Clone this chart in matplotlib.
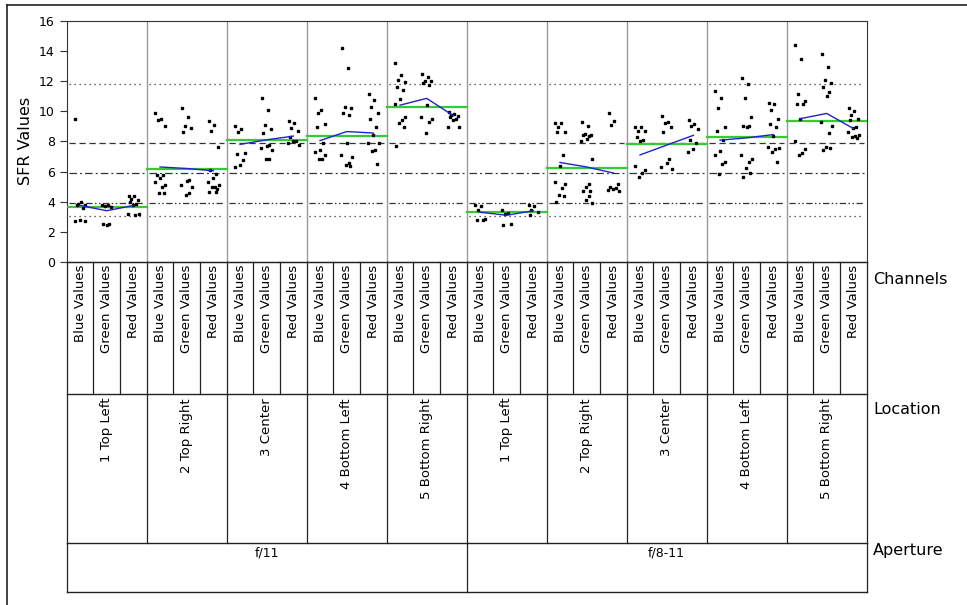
import matplotlib.pyplot as plt
from matplotlib.lines import Line2D

channels = ['Blue Values', 'Green Values', 'Red Values']
locations = ['1 Top Left', '2 Top Right', '3 Center', '4 Bottom Left', '5 Bottom Right']
apertures = ['f/11', 'f/8-11']

# SFR readings per location: [blue, green, red]
f11_top_left = [[9.45, 3.95, 3.85, 3.8, 3.75, 3.55, 2.8, 2.75, 2.7],
                [3.8, 3.75, 3.7, 3.65, 2.55, 2.5, 2.48],
                [4.4, 4.35, 4.2, 4.1, 3.95, 3.85, 3.8, 3.2, 3.15, 3.1]]
f11_top_right = [[9.9, 9.5, 9.4, 9.05, 5.8, 5.75, 5.6, 5.3, 5.1, 5.0, 4.6, 4.58],
                 [10.2, 9.6, 9.0, 8.9, 8.65, 5.45, 5.4, 5.1, 4.98, 4.6, 4.45],
                 [9.35, 9.1, 8.7, 7.6, 6.1, 5.85, 5.6, 5.3, 5.1, 5.0, 4.98, 4.87, 4.66, 4.64]]
f11_center = [[9.0, 8.85, 8.65, 7.2, 7.15, 6.75, 6.42, 6.27],
              [10.9, 10.07, 9.07, 8.84, 8.55, 7.75, 7.7, 7.53, 7.42, 6.82, 6.8],
              [9.36, 9.2, 8.9, 8.7, 8.3, 8.05, 8.0, 7.9, 7.75]]
f11_bottom_left = [[10.9, 10.07, 9.85, 9.18, 8.95, 7.9, 7.42, 7.3, 7.1, 6.8, 6.82],
                   [14.2, 12.85, 10.29, 10.22, 9.85, 9.75, 7.9, 7.1, 6.97, 6.58, 6.42, 6.36],
                   [11.17, 10.73, 10.29, 9.85, 9.45, 8.95, 8.41, 7.9, 7.88, 7.42, 7.38, 6.49]]
f11_bottom_right = [[13.2, 12.38, 12.05, 11.95, 11.6, 11.42, 10.84, 10.5, 9.62, 9.4, 9.2, 8.92, 7.68],
                    [12.49, 12.27, 12.0, 11.98, 11.85, 11.75, 10.4, 9.6, 9.51, 9.3, 8.56],
                    [9.95, 9.84, 9.75, 9.7, 9.62, 9.5, 9.4, 8.96, 8.92]]
f8_top_left = [[3.77, 3.73, 3.44, 2.85, 2.78, 2.76],
               [3.44, 3.26, 3.2, 2.52, 2.48],
               [3.77, 3.7, 3.44, 3.3, 3.1]]
f8_top_right = [[9.23, 9.22, 8.95, 8.63, 8.62, 7.09, 6.36, 5.32, 5.2, 4.88, 4.44, 4.37, 4.0],
                [9.27, 9.05, 8.5, 8.45, 8.4, 8.35, 8.15, 8.0, 6.8, 5.2, 5.0, 4.7, 4.68, 4.4, 4.1, 3.93],
                [9.89, 9.36, 9.07, 5.2, 5.0, 4.88, 4.86, 4.75, 4.7]]
f8_center = [[8.96, 8.95, 8.7, 8.68, 8.3, 8.1, 8.0, 6.36, 6.1, 5.87, 5.65],
             [9.67, 9.27, 9.23, 8.96, 8.63, 6.8, 6.54, 6.3, 6.14],
             [9.4, 9.18, 9.05, 8.84, 8.1, 7.9, 7.46, 7.3]]
f8_bottom_left = [[11.35, 10.9, 10.18, 8.92, 8.7, 8.08, 7.37, 7.08, 6.64, 6.5, 5.83],
                  [12.23, 11.8, 10.9, 9.62, 9.05, 9.0, 8.98, 7.09, 6.86, 6.64, 6.2, 5.88, 5.66],
                  [10.55, 10.5, 10.1, 9.5, 9.15, 8.92, 8.37, 7.62, 7.53, 7.52, 7.3, 6.64]]
f8_bottom_right = [[14.37, 13.49, 11.17, 10.7, 10.5, 10.45, 9.51, 8.03, 7.46, 7.2, 7.1],
                   [13.82, 12.93, 12.1, 11.85, 11.6, 11.26, 10.99, 9.29, 9.0, 8.56, 7.6, 7.53, 7.42],
                   [10.24, 10.0, 9.73, 9.5, 9.44, 8.96, 8.87, 8.65, 8.4, 8.38, 8.3, 8.2]]

panels = [f11_top_left, f11_top_right, f11_center, f11_bottom_left, f11_bottom_right,
          f8_top_left, f8_top_right, f8_center, f8_bottom_left, f8_bottom_right]

# cell means (blue line) and location means (green line)
cell_means_f11 = [3.75, 3.4, 3.75, 6.3, 6.2, 6.05, 7.8, 8.1, 8.35, 8.05, 8.65, 8.55, 10.4, 10.85, 9.7]
cell_means_f8 = [3.3, 3.1, 3.4, 6.6, 6.3, 5.9, 7.1, 7.75, 8.4, 8.08, 8.23, 8.45, 9.5, 9.85, 8.85]
location_means_f11 = [3.65, 6.15, 8.08, 8.35, 10.25]
location_means_f8 = [3.3, 6.25, 7.8, 8.3, 9.35]

# spec / reference lines
ref_values = [11.83, 7.9, 5.87, 3.93, 3.05]
ref_styles = [(0, (1, 3)), (0, (5, 3)), (0, (6, 2.5, 1.5, 2.5)), (0, (5, 2, 1.2, 2, 1.2, 2)), (0, (1, 3))]

W, H = 967, 605
def fx(px):
    return px / W
def fy(py):
    return 1 - py / H

fig = plt.figure(figsize=(W / 100, H / 100), dpi=100)
plt.rcParams['font.family'] = 'DejaVu Sans'

x0, x1 = 66.7, 866.7
ax = fig.add_axes([fx(x0), fy(262), fx(x1) - fx(x0), fy(20.7) - fy(262)])
ax.set_xlim(0, 30)
ax.set_ylim(0, 16)

jitter = [-0.18, 0.04, -0.08, 0.17, -0.13, 0.1, 0.0, -0.2, 0.2, 0.07, -0.04, 0.13, -0.15, 0.08, -0.02, 0.18]

for p, panel in enumerate(panels):
    for c, vals in enumerate(panel):
        cx = p * 3 + c + 0.5
        xs = [cx + jitter[i % len(jitter)] for i in range(len(vals))]
        ax.plot(xs, vals, 's', color='black', markersize=1.9, zorder=4)

cell_means = cell_means_f11 + cell_means_f8
location_means = location_means_f11 + location_means_f8
for p in range(10):
    xs = [p * 3 + c + 0.5 for c in range(3)]
    ax.plot(xs, cell_means[p * 3:p * 3 + 3], color='#2222cc', lw=1, zorder=5)
    ax.plot([p * 3, p * 3 + 3], [location_means[p]] * 2, color='#33cc33', lw=1.6, zorder=3)
    for v, ls in zip(ref_values, ref_styles):
        ax.plot([p * 3 + 0.1, p * 3 + 2.9], [v, v], color='#333333', lw=0.9, linestyle=ls, zorder=2)

for p in range(1, 10):
    ax.axvline(p * 3, color='#999999', lw=1, zorder=1)

ax.set_xticks([])
ax.set_yticks(range(0, 17, 2))
ax.tick_params(axis='y', length=5, labelsize=9, color='#333333')
for s in ax.spines.values():
    s.set_color('#333333')
ax.set_ylabel('SFR Values', fontsize=11.5, labelpad=4)

# table of grouping levels under the plot
tab = fig.add_axes([fx(x0), fy(592), fx(x1) - fx(x0), fy(262) - fy(592)])
tab.set_xlim(0, 30)
tab.set_ylim(592, 262)
tab.axis('off')
lc = '#222222'
for y in [262, 394, 543, 592]:
    tab.plot([0, 30], [y, y], color=lc, lw=1, clip_on=False)
for i in range(31):
    tab.plot([i, i], [262, 394], color=lc, lw=0.9, clip_on=False)
for i in range(0, 31, 3):
    tab.plot([i, i], [394, 543], color=lc, lw=0.9, clip_on=False)
for i in [0, 15, 30]:
    tab.plot([i, i], [543, 592], color=lc, lw=0.9, clip_on=False)

for p in range(10):
    for c, name in enumerate(channels):
        tab.text(p * 3 + c + 0.5, 265, name, rotation=90, ha='center', va='top', fontsize=9.5)
    tab.text(p * 3 + 1.5, 398, locations[p % 5], rotation=90, ha='center', va='top', fontsize=9.5)
for a, name in enumerate(apertures):
    tab.text(a * 15 + 7.5, 546, name, ha='center', va='top', fontsize=9)

fig.text(fx(873), fy(280), 'Channels', fontsize=11.5, va='center', ha='left')
fig.text(fx(873), fy(410), 'Location', fontsize=11.5, va='center', ha='left')
fig.text(fx(873), fy(551), 'Aperture', fontsize=11.5, va='center', ha='left')

# outer frame
fig.add_artist(Line2D([fx(7), 1], [fy(5), fy(5)], color='#222222', lw=1.2))
fig.add_artist(Line2D([fx(7), fx(7)], [fy(5), 0], color='#222222', lw=1.2))

fig.savefig('out.png', dpi=100)
